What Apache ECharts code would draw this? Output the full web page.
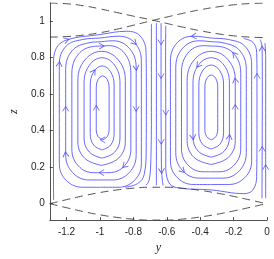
<!DOCTYPE html>
<html><head><meta charset="utf-8">
<script src="https://cdn.jsdelivr.net/npm/echarts@6/dist/echarts.min.js"></script>
<style>html,body{margin:0;padding:0;background:#fff}#c{width:274px;height:259px}</style>
</head><body><div id="c"></div>
<script>
// axis ranges and ticks
const xRange = [-1.3, 0];
const zRange = [-0.09, 1.1];
const xTicks = [-1.2, -1, -0.8, -0.6, -0.4, -0.2, 0];
const zTicks = [0, 0.2, 0.4, 0.6, 0.8, 1];

// dashed boundary curves (y, z)
const curveY = [-1.3,-1.2,-1.1,-1.0,-0.9,-0.8,-0.7,-0.6,-0.5,-0.4,-0.3,-0.2,-0.1,0];
const topFall = [1.10,1.096,1.085,1.068,1.048,1.028,1.009,0.988,0.967,0.948,0.932,0.920,0.913,0.910];
const topRise = [0.913,0.916,0.924,0.937,0.956,0.978,1.001,1.023,1.044,1.063,1.078,1.090,1.097,1.100];
const botUp   = [0.0,0.022,0.043,0.061,0.075,0.085,0.090,0.090,0.084,0.073,0.058,0.040,0.020,-0.001];
const botDown = [0.0,-0.022,-0.043,-0.061,-0.075,-0.085,-0.090,-0.090,-0.084,-0.073,-0.058,-0.040,-0.020,0.001];

// streamlines, left cell (clockwise on screen)
const L1 = [[-0.9835,0.35],[-1.011,0.368],[-1.022,0.41],[-1.022,0.525],[-1.022,0.63],[-1.011,0.68],[-0.9835,0.70],[-0.956,0.68],[-0.945,0.63],[-0.945,0.525],[-0.945,0.41],[-0.956,0.368],[-0.9835,0.35]];
const L2 = [[-0.9865,0.295],[-1.037,0.321],[-1.058,0.385],[-1.058,0.52],[-1.058,0.645],[-1.037,0.723],[-0.9865,0.755],[-0.936,0.723],[-0.915,0.645],[-0.915,0.52],[-0.915,0.385],[-0.936,0.321],[-0.9865,0.295]];
const L3 = [[-0.9875,0.25],[-1.063,0.282],[-1.095,0.36],[-1.095,0.52],[-1.095,0.66],[-1.063,0.759],[-0.9875,0.80],[-0.912,0.759],[-0.88,0.66],[-0.88,0.52],[-0.88,0.36],[-0.912,0.282],[-0.9875,0.25]];
const L4 = [[-0.99,0.21],[-1.09,0.248],[-1.132,0.34],[-1.132,0.52],[-1.132,0.675],[-1.09,0.788],[-0.99,0.835],[-0.89,0.788],[-0.848,0.675],[-0.848,0.52],[-0.848,0.34],[-0.89,0.248],[-0.99,0.21]];
const L5 = [[-0.99,0.17],[-1.038,0.17],[-1.13,0.208],[-1.168,0.30],[-1.168,0.52],[-1.168,0.712],[-1.13,0.818],[-1.038,0.862],[-0.99,0.864],[-0.945,0.866],[-0.853,0.825],[-0.815,0.715],[-0.815,0.52],[-0.815,0.30],[-0.853,0.208],[-0.945,0.17],[-0.99,0.17]];
const L6 = [[-0.99,0.13],[-1.065,0.13],[-1.164,0.171],[-1.205,0.27],[-1.205,0.52],[-1.205,0.735],[-1.164,0.841],[-1.065,0.882],[-0.99,0.888],[-0.923,0.893],[-0.824,0.852],[-0.783,0.745],[-0.783,0.52],[-0.783,0.27],[-0.824,0.171],[-0.923,0.13],[-0.99,0.13]];
const L7 = [[-1.0,0.09],[-1.103,0.09],[-1.202,0.128],[-1.243,0.22],[-1.243,0.52],[-1.243,0.765],[-1.202,0.864],[-1.103,0.9],[-1.0,0.908],[-0.892,0.918],[-0.793,0.883],[-0.752,0.78],[-0.752,0.52],[-0.752,0.22],[-0.793,0.128],[-0.892,0.09],[-1.0,0.09]];
const L8 = [[-1.277,0.02],[-1.278,0.12],[-1.278,0.5],[-1.278,0.76],[-1.262,0.85],[-1.2,0.897],[-1.0,0.927],[-0.84,0.945],[-0.76,0.92],[-0.724,0.83],[-0.722,0.6],[-0.723,0.3],[-0.735,0.16],[-0.775,0.11],[-0.85,0.09]];
// central down-going lines
const C1 = [[-0.692,0.985],[-0.692,0.8],[-0.692,0.5],[-0.695,0.25],[-0.705,0.13],[-0.725,0.1]];
const C2 = [[-0.662,0.99],[-0.662,0.8],[-0.662,0.5],[-0.662,0.25],[-0.662,0.1]];
const C3 = [[-0.634,0.99],[-0.634,0.885],[-0.634,0.70],[-0.634,0.5],[-0.633,0.34],[-0.631,0.18],[-0.622,0.1]];
// right cell (counter-clockwise on screen)
const R1 = [[-0.3335,0.35],[-0.306,0.368],[-0.295,0.41],[-0.295,0.525],[-0.295,0.635],[-0.306,0.685],[-0.3335,0.705],[-0.361,0.685],[-0.372,0.635],[-0.372,0.525],[-0.372,0.41],[-0.361,0.368],[-0.3335,0.35]];
const R2 = [[-0.334,0.30],[-0.282,0.326],[-0.26,0.39],[-0.26,0.53],[-0.26,0.65],[-0.282,0.728],[-0.334,0.76],[-0.386,0.728],[-0.408,0.65],[-0.408,0.53],[-0.408,0.39],[-0.386,0.326],[-0.334,0.30]];
const R3 = [[-0.334,0.255],[-0.257,0.287],[-0.225,0.365],[-0.225,0.53],[-0.225,0.66],[-0.257,0.759],[-0.334,0.80],[-0.411,0.759],[-0.443,0.66],[-0.443,0.53],[-0.443,0.365],[-0.411,0.287],[-0.334,0.255]];
const R4 = [[-0.334,0.215],[-0.232,0.253],[-0.19,0.345],[-0.19,0.53],[-0.19,0.675],[-0.232,0.788],[-0.334,0.835],[-0.436,0.788],[-0.478,0.675],[-0.478,0.53],[-0.478,0.345],[-0.436,0.253],[-0.334,0.215]];
const R5 = [[-0.334,0.175],[-0.287,0.175],[-0.195,0.213],[-0.157,0.305],[-0.157,0.53],[-0.157,0.712],[-0.195,0.818],[-0.287,0.862],[-0.334,0.864],[-0.382,0.866],[-0.474,0.825],[-0.512,0.715],[-0.512,0.53],[-0.512,0.305],[-0.474,0.213],[-0.382,0.175],[-0.334,0.175]];
const R6 = [[-0.334,0.14],[-0.264,0.14],[-0.165,0.181],[-0.124,0.28],[-0.124,0.53],[-0.124,0.735],[-0.165,0.841],[-0.264,0.882],[-0.334,0.888],[-0.406,0.893],[-0.505,0.852],[-0.546,0.745],[-0.546,0.53],[-0.546,0.28],[-0.505,0.181],[-0.406,0.14],[-0.334,0.14]];
const R7 = [[-0.334,0.105],[-0.232,0.105],[-0.133,0.143],[-0.092,0.235],[-0.092,0.53],[-0.092,0.765],[-0.133,0.864],[-0.232,0.90],[-0.334,0.908],[-0.438,0.918],[-0.537,0.883],[-0.578,0.78],[-0.578,0.53],[-0.578,0.235],[-0.537,0.143],[-0.438,0.105],[-0.334,0.105]];
const R8 = [[-0.606,0.975],[-0.607,0.8],[-0.606,0.5],[-0.606,0.22],[-0.59,0.12],[-0.54,0.088],[-0.33,0.075],[-0.14,0.055],[-0.085,0.075],[-0.062,0.15],[-0.06,0.4],[-0.06,0.7],[-0.062,0.83],[-0.085,0.885],[-0.14,0.905]];
const R9 = [[-0.03,0.03],[-0.029,0.3],[-0.028,0.6],[-0.029,0.85],[-0.04,0.9]];
const R10 = [[-0.008,0.03],[-0.008,0.2],[-0.008,0.5],[-0.008,0.8],[-0.012,0.88]];

const lines = {L1,L2,L3,L4,L5,L6,L7,L8,C1,C2,C3,R1,R2,R3,R4,R5,R6,R7,R8,R9,R10};

// arrowheads: [line, vertex index]
const arrows = [
  ['L1',3],['L1',0],['L2',5],['L6',4],['L6',3],['L7',5],['L5',8],['L8',5],
  ['L7',10],['L6',11],['L6',12],['L5',14],['L5',0],
  ['C3',1],['C3',2],['C3',4],['C3',5],
  ['R7',9],['R3',7],['R3',10],['R6',14],['R3',2],['R9',1],['R10',1],['R4',4],['R4',3],['R5',6],['R9',3],['R8',11],['R8',2]
];

const BLUE = '#4343ff';
const DASH = '#3c3c3c';
const TXT = '#262626';

const sx = 240 / (xRange[1] - xRange[0]);
const sz = 221 / (zRange[1] - zRange[0]);

function arrowItem(name, i) {
  const p = lines[name];
  const n = p.length;
  const closed = p[0][0] === p[n-1][0] && p[0][1] === p[n-1][1];
  const prev = i > 0 ? p[i-1] : (closed ? p[n-2] : p[i]);
  const next = i < n-1 ? p[i+1] : (closed ? p[1] : p[i]);
  const dx = (next[0] - prev[0]) * sx;
  const dy = (next[1] - prev[1]) * sz;
  const ang = Math.atan2(dy, dx) * 180 / Math.PI;
  return { value: p[i], symbolRotate: ang - 90 };
}

const series = [];
Object.keys(lines).forEach(k => {
  series.push({
    type: 'line', data: lines[k], showSymbol: false, symbol: 'none', smooth: 0.4,
    lineStyle: { color: BLUE, width: 0.8 }, silent: true, z: 2, animation: false
  });
});
[topFall, topRise, botUp, botDown].forEach(arr => {
  series.push({
    type: 'line', data: curveY.map((y, i) => [y, arr[i]]), showSymbol: false, symbol: 'none',
    smooth: true, lineStyle: { color: DASH, width: 0.9, type: [8, 5] }, silent: true, z: 3, animation: false
  });
});
series.push({
  type: 'scatter', data: arrows.map(a => arrowItem(a[0], a[1])),
  symbol: 'path://M0,8L5,0L10,8', symbolSize: [6, 5],
  itemStyle: { color: 'rgba(0,0,0,0)', borderColor: BLUE, borderWidth: 0.9 },
  silent: true, z: 4, animation: false
});

const fmt = v => String(Math.round(v * 10) / 10);

const chart = echarts.init(document.getElementById('c'), null, { renderer: 'canvas' });
chart.setOption({
  animation: false,
  backgroundColor: '#fff',
  grid: { left: 27, right: 7, top: 3, bottom: 35, containLabel: false },
  xAxis: {
    type: 'value', min: xRange[0], max: xRange[1],
    name: 'y', nameLocation: 'middle', nameGap: 17,
    nameTextStyle: { fontFamily: 'Liberation Serif', fontStyle: 'italic', fontSize: 12, color: TXT },
    axisLine: { show: true, onZero: false, lineStyle: { color: TXT, width: 0.8 } },
    axisTick: { show: true, inside: true, length: 3, customValues: xTicks, lineStyle: { color: TXT, width: 0.8 } },
    axisLabel: { customValues: xTicks, formatter: fmt, margin: 7, fontFamily: 'Liberation Sans', fontSize: 10, color: TXT },
    splitLine: { show: false }
  },
  yAxis: {
    type: 'value', min: zRange[0], max: zRange[1],
    name: 'z', nameLocation: 'middle', nameGap: 21, nameRotate: 90,
    nameTextStyle: { fontFamily: 'Liberation Serif', fontStyle: 'italic', fontSize: 12, color: TXT },
    axisLine: { show: true, onZero: false, lineStyle: { color: TXT, width: 0.8 } },
    axisTick: { show: true, inside: true, length: 3, customValues: zTicks, lineStyle: { color: TXT, width: 0.8 } },
    axisLabel: { customValues: zTicks, formatter: fmt, margin: 5, fontFamily: 'Liberation Sans', fontSize: 10, color: TXT },
    splitLine: { show: false }
  },
  series: series
});
</script></body></html>
